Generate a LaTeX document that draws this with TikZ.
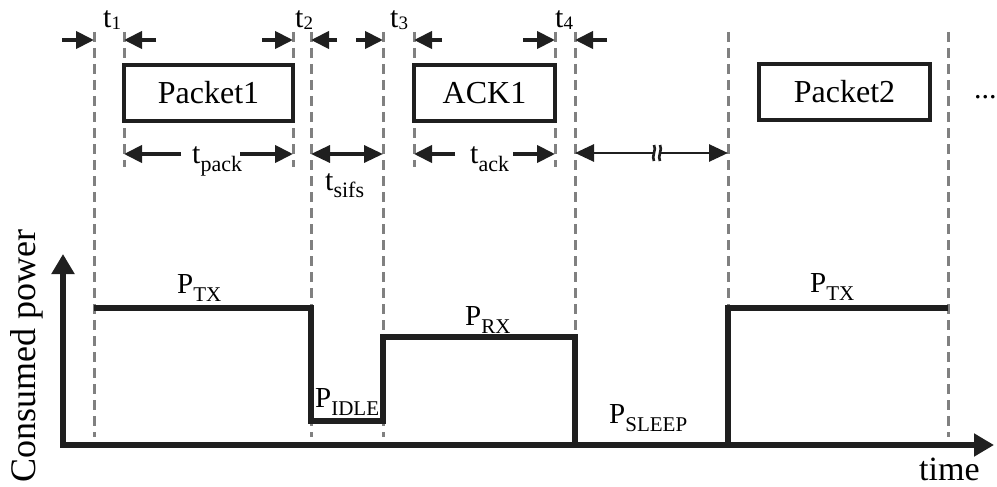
\documentclass[tikz,border=0pt]{standalone}
\usepackage{fontspec}
\setmainfont{Liberation Serif}
\usetikzlibrary{arrows.meta}
\newcommand{\subtxt}[3]{\raisebox{-#1}{\fontsize{#2}{#2}\selectfont #3}}
\begin{document}
\begin{tikzpicture}[x=1pt,y=-1pt,
  dashln/.style={draw=black!50, line width=3pt, dash pattern=on 10pt off 6pt},
  pbox/.style={draw=black!88, line width=3.5pt, minimum width=#1, minimum height=56pt, inner sep=0pt, font=\fontsize{32}{32}\selectfont},
  tlab/.style={anchor=base west, inner sep=0pt, font=\fontsize{30}{30}\selectfont},
  plab/.style={anchor=base west, inner sep=0pt, font=\fontsize{29}{29}\selectfont},
  tip/.style={-{Triangle[length=18pt,width=17pt]}, line width=4pt, draw=black!88},
  dtip/.style={{Triangle[length=19pt,width=17pt]}-{Triangle[length=19pt,width=17pt]}, line width=3.4pt, draw=black!88},
  sig/.style={line width=6pt, draw=black!88},
  axis/.style={{Triangle[length=20pt,width=22pt]}-{Triangle[length=20pt,width=22pt]}, line width=6pt, draw=black!88}
]
\useasboundingbox (0,0) rectangle (997,487);

% dashed guide lines (full length)
\coordinate (d1t) at (94,32);  \coordinate (d1b) at (94,437);
\coordinate (d4t) at (311,32); \coordinate (d4b) at (311,437);
\coordinate (d5t) at (383,32); \coordinate (d5b) at (383,437);
\coordinate (d8t) at (575,32); \coordinate (d8b) at (575,437);
\coordinate (d9t) at (728,32); \coordinate (d9b) at (728,437);
\coordinate (d10t) at (948,32); \coordinate (d10b) at (948,437);
% short guide lines
\coordinate (d2t) at (124,32); \coordinate (d2b) at (124,167);
\coordinate (d3t) at (293,32); \coordinate (d3b) at (293,167);
\coordinate (d6t) at (414,32); \coordinate (d6b) at (414,167);
\coordinate (d7t) at (555,32); \coordinate (d7b) at (555,167);
\foreach \n in {1,...,10} {\draw[dashln] (d\n t) -- (d\n b);}

% packet boxes
\node[pbox=169pt] (pk1) at (208.5,93) {\raisebox{-2pt}{Packet1}};
\node[pbox=141pt] (ack1) at (484.5,93) {\raisebox{-2pt}{ACK1}};
\node[pbox=171pt] (pk2) at (844.5,92) {\raisebox{-2pt}{Packet2}};
\node[anchor=base west, inner sep=0pt, font=\fontsize{30}{30}\selectfont] (dots) at (974,99) {...};

% top arrows
\coordinate (a1s) at (62,40);  \coordinate (a1e) at (94,40);
\coordinate (a2s) at (156,40); \coordinate (a2e) at (124,40);
\coordinate (a3s) at (262,40); \coordinate (a3e) at (293,40);
\coordinate (a4s) at (337,40); \coordinate (a4e) at (311,40);
\coordinate (a5s) at (356,40); \coordinate (a5e) at (383,40);
\coordinate (a6s) at (442,40); \coordinate (a6e) at (414,40);
\coordinate (a7s) at (523,40); \coordinate (a7e) at (555,40);
\coordinate (a8s) at (607,40); \coordinate (a8e) at (575,40);
\foreach \n in {1,...,8} {\draw[tip] (a\n s) -- (a\n e);}

% time labels
\node[tlab] (t1) at (103,28) {t\subtxt{0.05em}{19}{1}};
\node[tlab] (t2) at (295,28) {t\subtxt{0.05em}{19}{2}};
\node[tlab] (t3) at (390,28) {t\subtxt{0.05em}{19}{3}};
\node[tlab] (t4) at (555,28) {t\subtxt{0.05em}{19}{4}};

% duration arrows
\coordinate (tpL) at (124,154); \coordinate (tpLs) at (181,154);
\coordinate (tpR) at (293,154); \coordinate (tpRs) at (240,154);
\draw[tip] (tpLs) -- (tpL);
\draw[tip] (tpRs) -- (tpR);
\node[tlab] (tpack) at (192,163) {t\subtxt{0.3em}{22}{pack}};

\coordinate (tsL) at (311,154); \coordinate (tsR) at (383,154);
\draw[dtip] (tsL) -- (tsR);
\node[tlab] (tsifs) at (325,190) {t\subtxt{0.25em}{22}{sifs}};

\coordinate (taL) at (414,154); \coordinate (taLs) at (455,154);
\coordinate (taR) at (555,154); \coordinate (taRs) at (513,154);
\draw[tip] (taLs) -- (taL);
\draw[tip] (taRs) -- (taR);
\node[tlab] (tack) at (470,163) {t\subtxt{0.3em}{22}{ack}};

\coordinate (slL) at (575,153); \coordinate (slR) at (728,153);
\draw[dtip, line width=2.8pt] (slL) -- (slR);
\fill[white] (653.5,144) rectangle (659.5,162);
\draw[line width=2.6pt, draw=black!88] (654,145) .. controls (657,149) and (651,157) .. (654,161);
\draw[line width=2.6pt, draw=black!88] (660,145) .. controls (663,149) and (657,157) .. (660,161);

% axes
\coordinate (ytip) at (63,254);
\coordinate (orig) at (63,445);
\coordinate (xtip) at (994,445);
\draw[axis] (ytip) -- (orig) -- (xtip);
\node[anchor=base west, inner sep=0pt, rotate=90, font=\fontsize{36}{36}\selectfont] (ylab) at (35,483) {Consumed power};
\node[anchor=base west, inner sep=0pt, font=\fontsize{34}{34}\selectfont] (xlab) at (919,480) {time};

% power signal
\coordinate (s0) at (94,308);
\coordinate (s1) at (311,308);
\coordinate (s2) at (311,421);
\coordinate (s3) at (383,421);
\coordinate (s4) at (383,337);
\coordinate (s5) at (575,337);
\coordinate (s6) at (575,445);
\coordinate (s7) at (728,445);
\coordinate (s8) at (728,308);
\coordinate (s9) at (948,308);
\draw[sig] (s0) -- (s1) -- (s2) -- (s3) -- (s4) -- (s5) -- (s6) -- (s7) -- (s8) -- (s9);

% power labels
\node[plab] (ptx1) at (177,293) {P\subtxt{0.3em}{21}{TX}};
\node[plab] (pidle) at (315,407) {P\subtxt{0.3em}{21}{IDLE}};
\node[plab] (prx) at (465,325) {P\subtxt{0.28em}{21}{RX}};
\node[plab] (psleep) at (609,423) {P\subtxt{0.3em}{21}{SLEEP}};
\node[plab] (ptx2) at (810,292) {P\subtxt{0.3em}{21}{TX}};
\end{tikzpicture}
\end{document}
